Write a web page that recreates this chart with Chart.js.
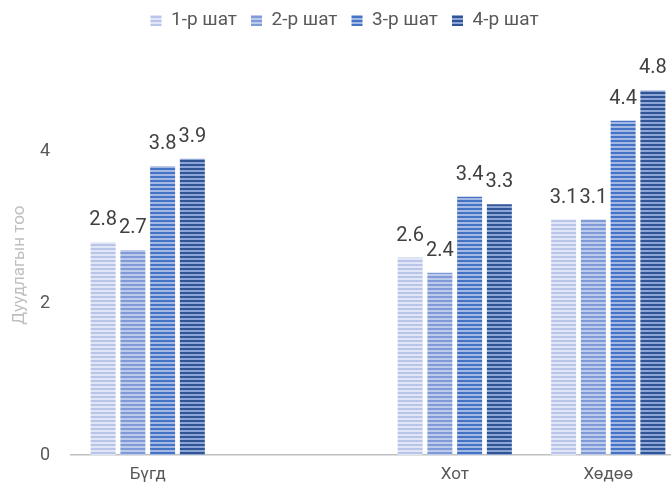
<!DOCTYPE html>
<html>
<head>
<meta charset="utf-8">
<script src="https://cdn.jsdelivr.net/npm/chart.js@4/dist/chart.umd.min.js"></script>
<style>
  html, body { margin: 0; padding: 0; background: #fff; overflow: hidden; }
  #wrap { position: absolute; left: 0; top: 0; width: 694px; height: 491px; }
</style>
</head>
<body>
<div id="wrap"><canvas id="chart"></canvas></div>
<script>
const categories = ['Бүгд', '', 'Хот', 'Хөдөө'];
const seriesNames = ['1-р шат', '2-р шат', '3-р шат', '4-р шат'];
const stage1 = [2.8, null, 2.6, 3.1];
const stage2 = [2.7, null, 2.4, 3.1];
const stage3 = [3.8, null, 3.4, 4.4];
const stage4 = [3.9, null, 3.3, 4.8];
const yTicks = [0, 2, 4];

const stripeColors = [
    ['#b8c5e8', '#e0e6f5'],
    ['#7f9ad6', '#bccaec'],
    ['#4472c4', '#a3b9e4'],
    ['#2f5597', '#8ea6d6']
];

function makeStripe(dark, light) {
    const c = document.createElement('canvas');
    c.width = 4;
    c.height = 4;
    const ctx = c.getContext('2d');
    ctx.fillStyle = light;
    ctx.fillRect(0, 0, 4, 4);
    ctx.fillStyle = dark;
    ctx.fillRect(0, 0, 4, 2);
    return ctx.createPattern(c, 'repeat');
}

// value labels above the bars
const valueLabels = {
    id: 'valueLabels',
    afterDatasetsDraw(chart) {
        const ctx = chart.ctx;
        ctx.save();
        ctx.font = '20px Roboto';
        ctx.fillStyle = '#404040';
        ctx.textAlign = 'center';
        ctx.textBaseline = 'bottom';
        chart.data.datasets.forEach(function(ds, i) {
            chart.getDatasetMeta(i).data.forEach(function(bar, j) {
                if (ds.data[j] == null) return;
                ctx.fillText(ds.data[j].toFixed(1), bar.x, bar.y - 12);
            });
        });
        ctx.restore();
    }
};

const allSeries = [stage1, stage2, stage3, stage4];

new Chart(document.getElementById('chart'), {
    type: 'bar',
    data: {
        labels: categories,
        datasets: allSeries.map(function(values, i) {
            return {
                label: seriesNames[i],
                data: values,
                backgroundColor: makeStripe(stripeColors[i][0], stripeColors[i][1]),
                borderWidth: 0,
                categoryPercentage: 0.775,
                barPercentage: 0.84
            };
        })
    },
    options: {
        responsive: true,
        maintainAspectRatio: false,
        animation: false,
        layout: {
            padding: { left: 4, right: 9, top: -3, bottom: 0 }
        },
        plugins: {
            legend: {
                position: 'top',
                labels: {
                    boxWidth: 11,
                    boxHeight: 11,
                    padding: 14,
                    color: '#595959',
                    font: { family: 'Roboto', size: 19 }
                }
            },
            // spacer between legend and plot
            subtitle: {
                display: true,
                text: '',
                weight: 500,
                font: { size: 1 },
                padding: { top: 0, bottom: 34 }
            },
            tooltip: { enabled: false }
        },
        scales: {
            x: {
                afterFit: function(scale) {
                    scale.height = 36;
                },
                grid: { display: false },
                border: { color: '#bfbfbf', width: 1.5 },
                ticks: {
                    color: '#595959',
                    font: { family: 'Roboto', size: 17 },
                    padding: 2
                }
            },
            y: {
                min: 0,
                max: 5,
                afterBuildTicks: function(scale) {
                    scale.ticks = yTicks.map(function(v) { return { value: v }; });
                },
                afterFit: function(scale) {
                    scale.width = 67;
                },
                grid: { display: false, drawTicks: false },
                border: { display: false },
                ticks: {
                    color: '#595959',
                    font: { family: 'Roboto', size: 18 },
                    padding: 21
                },
                title: {
                    display: true,
                    text: 'Дуудлагын тоо',
                    color: '#bfbfbf',
                    font: { family: 'Roboto', size: 17 },
                    padding: { top: 6, bottom: 4 }
                }
            }
        }
    },
    plugins: [valueLabels]
});
</script>
</body>
</html>
